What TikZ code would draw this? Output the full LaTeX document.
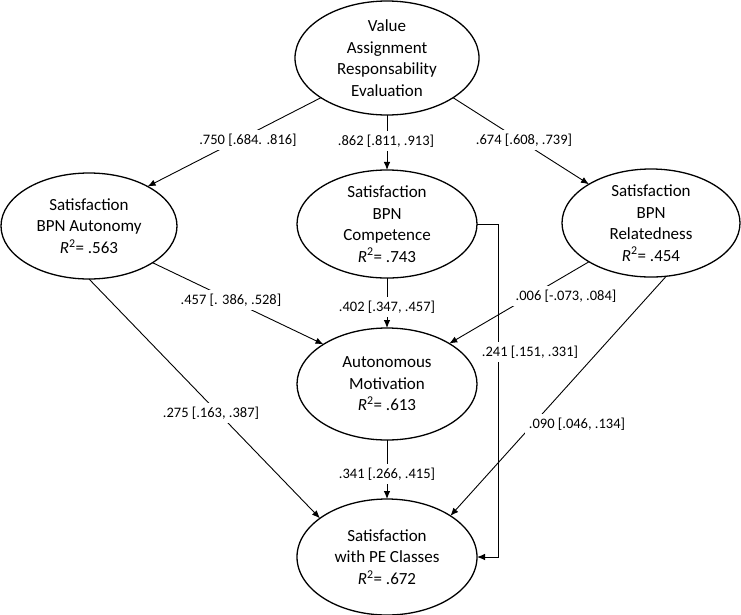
\documentclass[tikz,border=0pt]{standalone}
\usepackage{fontspec}
\setmainfont{Carlito}
\usetikzlibrary{shapes.geometric}
\usetikzlibrary{arrows.meta}

\begin{document}
\begin{tikzpicture}[x=1pt,y=-1pt,>={Latex[length=8pt,width=6.5pt]},line width=0.9pt,
	main node/.style={ellipse,draw,line width=1.3pt,align=center,inner sep=0pt,outer sep=0pt,font=\fontsize{17}{21.5}\selectfont},
	coef/.style={fill=white,inner sep=3.5pt,font=\fontsize{14.5}{17}\selectfont}]

	\useasboundingbox (0,0) rectangle (741,614);

	%the latent variables of the model
	\begin{scope}
		\node[main node, minimum width=184pt, minimum height=114pt] (val) at (387,58) {Value\\Assignment\\Responsability\\Evaluation};
		\node[main node, minimum width=176pt, minimum height=106pt] (aut) at (89,226) {Satisfaction\\BPN Autonomy\\\textit{R}\textsuperscript{2}= .563};
		\node[main node, minimum width=180pt, minimum height=106pt] (comp) at (387,224) {Satisfaction\\BPN\\Competence\\\textit{R}\textsuperscript{2}= .743};
		\node[main node, minimum width=178pt, minimum height=96pt] (rel) at (651,223) {Satisfaction\\BPN\\Relatedness\\\textit{R}\textsuperscript{2}= .454};
		\node[main node, minimum width=180pt, minimum height=112pt] (am) at (387,384) {Autonomous\\Motivation\\\textit{R}\textsuperscript{2}= .613};
		\node[main node, minimum width=180pt, minimum height=116pt] (pe) at (387,557) {Satisfaction\\with PE Classes\\\textit{R}\textsuperscript{2}= .672};
	\end{scope}

	%paths between them
	\begin{scope}
		\draw[->] (val.211) -- (aut.34);
		\draw[->] (val.south) -- (comp.north);
		\draw[->] (val.329) -- (rel.148);
		\draw[->] (aut.330) -- (am.148);
		\draw[->] (comp.south) -- (am.north);
		\draw[->] (rel.212) -- (am.33);
		\draw[->] (aut.270) -- (pe.150);
		\draw[->] (rel.286) -- (pe.33);
		\draw[->] (am.south) -- (pe.north);
		\draw[->] (comp.east) -- ++(21,0) |- (pe.east);
	\end{scope}

	%finally, the coefficients with their intervals
	\begin{scope}
		\node[coef] (c1) at (248,140) {.750 [.684. .816]};
		\node[coef] (c2) at (386,141) {.862 [.811, .913]};
		\node[coef] (c3) at (524,140) {.674 [.608, .739]};
		\node[coef] (c4) at (231,300) {.457 [. 386, .528]};
		\node[coef] (c5) at (387,307) {.402 [.347, .457]};
		\node[coef] (c6) at (566,296) {.006 [-.073, .084]};
		\node[coef] (c7) at (530,352) {.241 [.151, .331]};
		\node[coef] (c8) at (211,413) {.275 [.163, .387]};
		\node[coef] (c9) at (577,424) {.090 [.046, .134]};
		\node[coef] (c10) at (387,474) {.341 [.266, .415]};
	\end{scope}
\end{tikzpicture}
\end{document}
